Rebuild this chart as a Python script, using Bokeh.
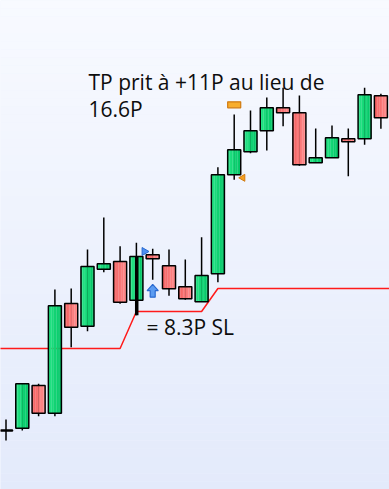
import numpy as np
from bokeh.plotting import figure
from bokeh.models import Range1d, Label
from bokeh.embed import file_html
from bokeh.resources import INLINE

# ---- data (price in chart points) ----
opens  = [59.5, 61.3, 104.0, 76.3, 186.0, 163.3, 220.3, 228.0, 189.3, 234.7, 223.7, 202.7,
          187.7, 215.7, 314.7, 337.7, 358.7, 381.7, 376.7, 326.7, 331.7, 350.7, 350.7, 393.7]
closes = [58.5, 105.7, 76.3, 183.7, 162.3, 223.0, 225.7, 187.3, 233.0, 230.7, 200.7, 190.7,
          214.0, 314.7, 339.7, 358.7, 381.7, 376.7, 324.7, 331.7, 351.7, 347.7, 394.7, 371.7]
highs  = [70.0, 105.7, 105.7, 200.0, 201.0, 240.0, 272.0, 243.3, 246.7, 240.7, 240.0, 230.0,
          252.3, 322.3, 375.0, 379.0, 392.0, 401.7, 394.0, 361.0, 364.0, 361.0, 401.7, 395.7]
lows   = [49.0, 59.0, 73.3, 73.3, 142.3, 158.3, 217.3, 185.7, 174.3, 209.7, 193.7, 189.7,
          187.7, 207.3, 309.7, 336.3, 339.0, 363.3, 323.7, 326.7, 331.7, 313.3, 344.7, 360.7]
stop_loss = [141, 141, 141, 141, 141, 141, 141, 141, 178, 178, 178, 178,
             178, 201, 201, 201, 201, 201, 201, 201, 201, 201, 201, 201]

entry_bar = 9
entry_price = 238.0
entry_arrow_price = 192.3
signal_bar = 8
signal_low = 174.3
tp_bar = 14
tp_target = 384.7
tp_hit = 311.7

label_tp_1 = "TP prit à +11P au lieu de"
label_tp_2 = "16.6P"
label_sl = "= 8.3P SL"

W, H = 389, 489
px_x = 16.3  # pixels per bar
idx = list(range(len(opens)))

p = figure(width=W, height=H, x_range=Range1d(-5.5 / px_x, (W - 5.5) / px_x),
           y_range=Range1d(0, H), output_backend="svg", toolbar_location=None,
           x_axis_location=None, y_axis_location=None, min_border=0)
p.grid.visible = False
p.outline_line_color = None
p.background_fill_color = "#eef2fd"
p.border_fill_color = "#eef2fd"

# background vertical gradient
nb = 60
top_c = np.array([248, 250, 255])
bot_c = np.array([227, 234, 251])
edges = np.linspace(0, H, nb + 1)
cols = []
for i in range(nb):
    t = (i + 0.5) / nb
    c = bot_c + (top_c - bot_c) * t
    cols.append("#%02x%02x%02x" % tuple(int(round(v)) for v in c))
p.quad(left=-5, right=30, bottom=edges[:-1], top=edges[1:], fill_color=cols, line_color=None)

# stop-loss line
sl_x = [idx[0] - 1] + idx + [idx[-1] + 1]
sl_y = [stop_loss[0]] + stop_loss + [stop_loss[-1]]
p.line(sl_x, sl_y, line_color="#ff1a1a", line_width=1.5)

# wicks
p.segment(x0=idx, y0=lows, x1=idx, y1=highs, line_color="black", line_width=1.5)

# bodies with horizontal gradient
bw = 0.8
ns = 8
tops = [max(o, c) for o, c in zip(opens, closes)]
bots = [min(o, c) for o, c in zip(opens, closes)]
up = [c >= o for o, c in zip(opens, closes)]
g_left, g_right = np.array([38, 230, 134]), np.array([0, 196, 100])
r_left, r_right = np.array([244, 96, 96]), np.array([255, 140, 140])
for s in range(ns):
    t = (s + 0.5) / ns
    off = -bw / 2 + bw * t
    gc = "#%02x%02x%02x" % tuple(int(round(v)) for v in g_left + (g_right - g_left) * t)
    rc = "#%02x%02x%02x" % tuple(int(round(v)) for v in r_left + (r_right - r_left) * t)
    xs = [i + off for i in idx]
    fc = [gc if u else rc for u in up]
    p.vbar(x=xs, width=bw / ns + 0.01, top=tops, bottom=bots, fill_color=fc, line_color=None)
p.vbar(x=idx, width=bw, top=tops, bottom=bots, fill_color=None, line_color="black", line_width=1.5)

# thick signal wick
p.segment(x0=[signal_bar + 0.02], y0=[signal_low], x1=[signal_bar + 0.02], y1=[closes[signal_bar]],
          line_color="black", line_width=3.5)

# entry markers
p.scatter([entry_bar - 8.3 / px_x], [entry_price], marker="triangle", size=8, angle=-np.pi / 2,
          fill_color="#4e8ff0", line_color="#2a6ad0", line_width=1)
ax0 = entry_bar
ay0 = entry_arrow_price
sx = 1 / px_x
arrow_x = [ax0 - 2.5 * sx, ax0 + 2.5 * sx, ax0 + 2.5 * sx, ax0 + 5.6 * sx, ax0, ax0 - 5.6 * sx, ax0 - 2.5 * sx]
arrow_y = [ay0, ay0, ay0 + 6.5, ay0 + 6.5, ay0 + 12.8, ay0 + 6.5, ay0 + 6.5]
p.patch(arrow_x, arrow_y, fill_color="#5b9cf2", line_color="#2a6ad0", line_width=1.2)

# TP markers
p.rect([tp_bar], [tp_target], width=0.8, height=6, fill_color="#f8ad2c", line_color="#d07a10", line_width=1.2)
p.scatter([tp_bar + 8.6 / px_x], [tp_hit], marker="triangle", size=7, angle=np.pi / 2,
          fill_color="#f5a020", line_color="#d07a10", line_width=1)

# texts
font = "Open Sans"
for txt, x, y in [(label_tp_1, 88, H - 81), (label_tp_2, 88, H - 108.5), (label_sl, 146, H - 326)]:
    p.add_layout(Label(x=x, y=y, x_units="screen", y_units="screen", text=txt,
                       text_font=font, text_font_size="21px", text_color="#0d0d0d",
                       text_baseline="alphabetic", text_align="left"))

open("out.html", "w").write(file_html(p, INLINE))
